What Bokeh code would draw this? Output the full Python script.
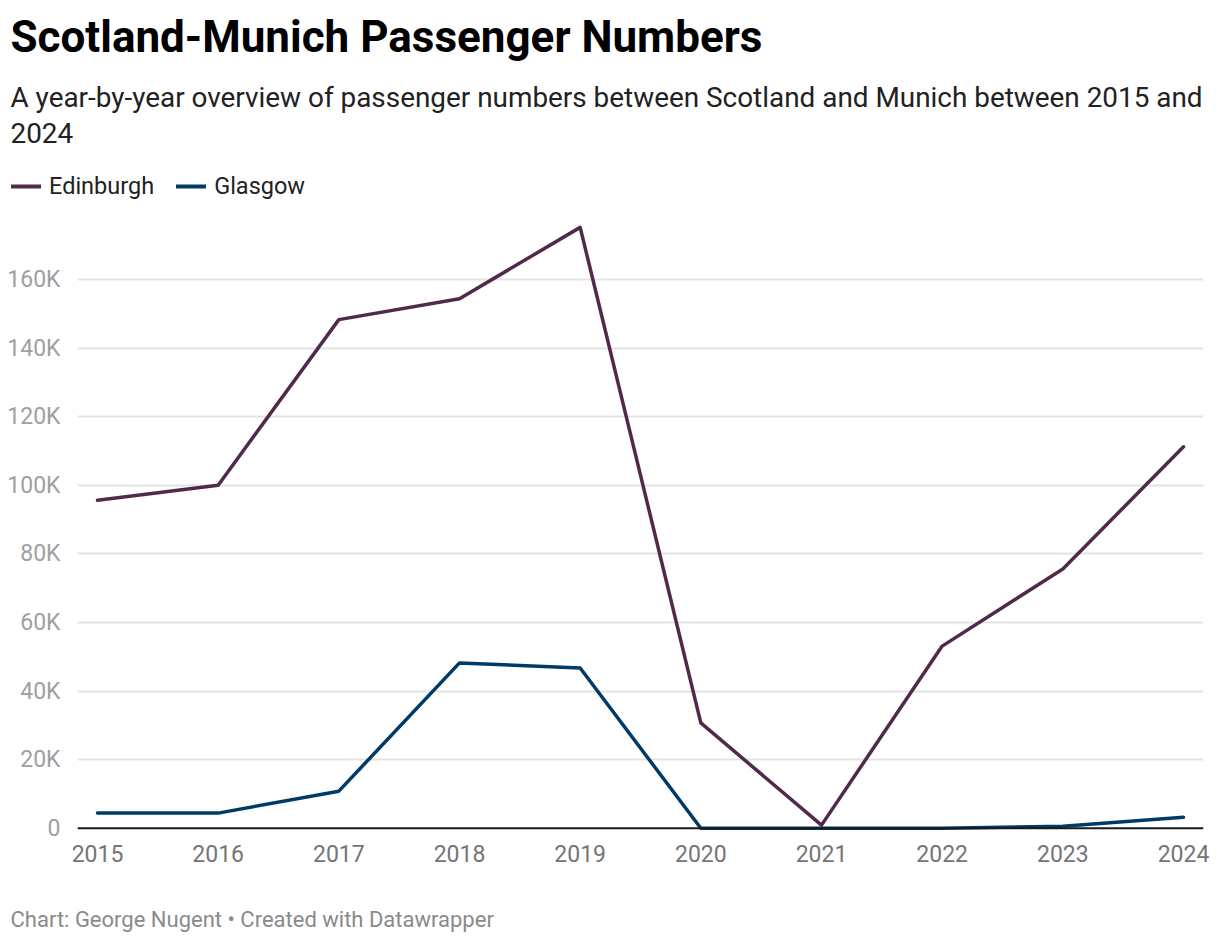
from bokeh.plotting import figure
from bokeh.models import Label, Span, Legend, LegendItem, FixedTicker, CustomJSTickFormatter, Range1d
from bokeh.embed import file_html
from bokeh.resources import INLINE

years = [2015, 2016, 2017, 2018, 2019, 2020, 2021, 2022, 2023, 2024]
edinburgh = [95600, 100000, 148300, 154400, 175200, 30700, 900, 53100, 75600, 111200]
glasgow = [4400, 4400, 10800, 48200, 46700, 0, 0, 0, 600, 3200]
y_ticks = [0, 20000, 40000, 60000, 80000, 100000, 120000, 140000, 160000]
series_names = ["Edinburgh", "Glasgow"]
series_values = [edinburgh, glasgow]
series_colors = ["#512a4b", "#003a66"]

title = "Scotland-Munich Passenger Numbers"
subtitle1 = "A year-by-year overview of passenger numbers between Scotland and Munich between 2015 and"
subtitle2 = "2024"
footer = "Chart: George Nugent \u2022 Created with Datawrapper"

W = 1212
FONT = "Roboto"
HEAD_H, MAIN_H, FOOT_H = 205, 685, 46


def blank(h):
    f = figure(width=W, height=h, output_backend="svg", toolbar_location=None,
               x_range=Range1d(0, W), y_range=Range1d(h, 0),
               x_axis_location=None, y_axis_location=None,
               min_border=0, min_border_left=0, min_border_right=0,
               min_border_top=0, min_border_bottom=0)
    f.grid.visible = False
    f.outline_line_color = None
    f.background_fill_color = "white"
    f.border_fill_color = "white"
    return f


# ---------- header ----------
head = blank(HEAD_H)
head.add_layout(Label(x=10, y=36, text=title, text_font=FONT, text_font_style="bold",
                      text_font_size="44px", text_color="#000000", text_baseline="alphabetic"))
head.add_layout(Label(x=10, y=97, text=subtitle1, text_font=FONT, text_font_size="27.9px",
                      text_color="#222222", text_baseline="alphabetic"))
head.add_layout(Label(x=10, y=132, text=subtitle2, text_font=FONT, text_font_size="27.9px",
                      text_color="#222222", text_baseline="alphabetic"))
# legend swatches take their style from these renderers (their data lie outside this header's ranges)
leg_r = [head.line(years, v, line_color=c, line_width=4, line_cap="round")
         for v, c in zip(series_values, series_colors)]
legend = Legend(items=[LegendItem(label=n, renderers=[r]) for n, r in zip(series_names, leg_r)],
                orientation="horizontal", location=(11, 5),
                label_text_font=FONT, label_text_font_size="23.5px", label_text_color="#222222",
                glyph_width=30, glyph_height=26, label_height=26, label_standoff=8,
                spacing=22, padding=0, margin=0,
                border_line_color=None, background_fill_alpha=0)
head.add_layout(legend, "center")

# ---------- main chart ----------
p = figure(width=W, height=MAIN_H, output_backend="svg", toolbar_location=None,
           x_range=Range1d(2015 - 0.1657, 2024 + 0.1657),
           y_range=Range1d(-2420, 178370),
           min_border_left=77, min_border_right=9, min_border_top=11, min_border_bottom=54)
p.outline_line_color = None
p.background_fill_color = "white"
p.border_fill_color = "white"

p.xaxis.ticker = FixedTicker(ticks=years)
p.xaxis.axis_line_color = None
p.xaxis.major_tick_line_color = None
p.xaxis.minor_tick_line_color = None
p.xaxis.major_label_text_font = FONT
p.xaxis.major_label_text_font_size = "23px"
p.xaxis.major_label_text_color = "#757575"
p.xaxis.major_label_standoff = 2

p.yaxis.ticker = FixedTicker(ticks=y_ticks)
p.yaxis.formatter = CustomJSTickFormatter(code="return tick == 0 ? '0' : (tick/1000) + 'K';")
p.yaxis.axis_line_color = None
p.yaxis.major_tick_line_color = None
p.yaxis.minor_tick_line_color = None
p.yaxis.major_label_text_font = FONT
p.yaxis.major_label_text_font_size = "23px"
p.yaxis.major_label_text_color = "#a0a0a0"
p.yaxis.major_label_standoff = 11

p.xgrid.grid_line_color = None
p.ygrid.grid_line_color = "#e3e3e3"
p.ygrid.grid_line_width = 2
p.ygrid.ticker = FixedTicker(ticks=y_ticks[1:])

p.add_layout(Span(location=0, dimension="width", line_color="#1a1a1a", line_width=2))

for vals, c in zip(series_values, series_colors):
    p.line(years, vals, line_color=c, line_width=3.5, line_join="round", line_cap="round")

# ---------- footer ----------
foot = blank(FOOT_H)
foot.add_layout(Label(x=10, y=29, text=footer, text_font=FONT, text_font_size="22px",
                      text_color="#8a8a8a", text_baseline="alphabetic"))

open("out.html", "w").write(file_html([head, p, foot], INLINE))
